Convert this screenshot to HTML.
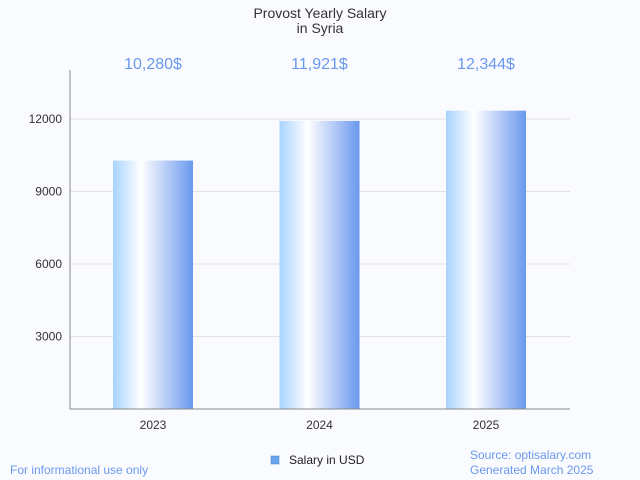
<!DOCTYPE html>
<html><head><meta charset="utf-8"><style>
body{margin:0;background:#fafbfe;font-family:"Liberation Sans",sans-serif;}
svg{display:block}
</style></head><body>
<svg width="640" height="480">
<defs><linearGradient id="g" x1="0" x2="1" y1="0" y2="0">
<stop offset="0" stop-color="#a8d3fe"/><stop offset="0.35" stop-color="#ffffff"/><stop offset="1" stop-color="#6a98ee"/></linearGradient></defs>
<rect width="640" height="480" fill="#fafbfe"/>
<text x="320" y="18" text-anchor="middle" font-size="14" fill="#333">Provost Yearly Salary</text>
<text x="320" y="33" text-anchor="middle" font-size="14" fill="#333">in Syria</text>
<g id="grid"></g>
<g id="bars"></g>
<line x1="70" y1="70" x2="70" y2="409" stroke="#888"/>
<line x1="70" y1="409" x2="570" y2="409" stroke="#888"/>
<rect x="271" y="456" width="8" height="8" fill="#6aa6ee" stroke="#4a7fc0" stroke-width="0.5"/>
<text x="289" y="464" font-size="12" fill="#222">Salary in USD</text>
<text x="10" y="474" font-size="12" fill="#6a98ee">For informational use only</text>
<text x="470" y="459" font-size="12" fill="#6a98ee">Source: optisalary.com</text>
<text x="470" y="474" font-size="12" fill="#6a98ee">Generated March 2025</text>
</svg>
<script>
const categories=["2023","2024","2025"];
const values=[10280,11921,12344];
const valueLabels=["10,280$","11,921$","12,344$"];
const yTicks=[3000,6000,9000,12000];
const NS="http://www.w3.org/2000/svg";
const y=v=>409-v*(72.5/3000);
const x=i=>153+i*166.5;
function mk(t,a,p){const e=document.createElementNS(NS,t);for(const k in a)e.setAttribute(k,a[k]);p.appendChild(e);return e;}
const grid=document.getElementById('grid'),bars=document.getElementById('bars');
yTicks.forEach(t=>{
 const l=mk('line',{x1:70,x2:570,y1:y(t),y2:y(t),stroke:'#e2e2e2'},grid);
 
 
 const tx=mk('text',{x:62,y:y(t)+4,'text-anchor':'end','font-size':12,fill:'#333'},grid);tx.textContent=t;
 
 
});
categories.forEach((c,i)=>{
 const r=mk('rect',{x:x(i)-40,y:y(values[i]),width:80,height:409-y(values[i]),fill:'url(#g)'},bars);
 
 
 const lb=mk('text',{x:x(i),y:69,'text-anchor':'middle','font-size':16,fill:'#6a98ee'},bars);lb.textContent=valueLabels[i];
 
 
 const xt=mk('text',{x:x(i),y:429,'text-anchor':'middle','font-size':12,fill:'#333'},bars);xt.textContent=c;
 
 
});
</script>
</body></html>
